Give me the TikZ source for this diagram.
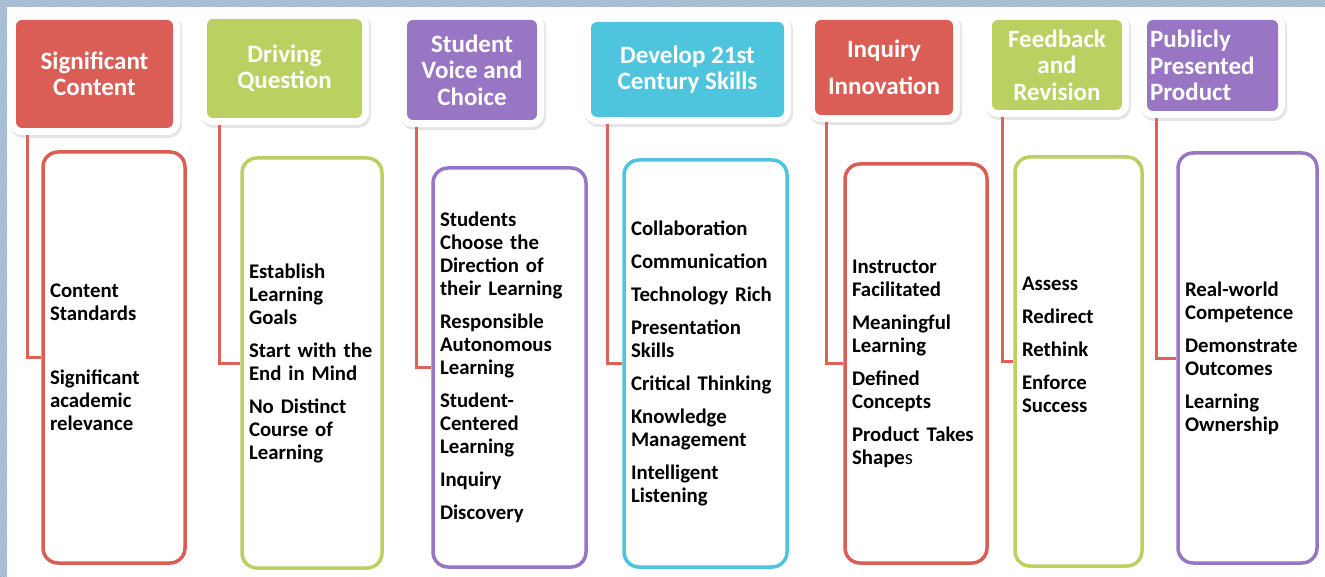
\documentclass[tikz,border=0pt]{standalone}
\usepackage{fontspec}
\setmainfont{Carlito}
\usepackage{xcolor}
\usetikzlibrary{patterns,positioning}
\definecolor{hred}{RGB}{218,94,85}
\definecolor{hgreen}{RGB}{186,209,98}
\definecolor{hpurple}{RGB}{152,118,196}
\definecolor{hcyan}{RGB}{78,196,221}
\definecolor{lred}{RGB}{222,98,88}
\definecolor{stripbg}{RGB}{150,178,201}
\definecolor{stripln}{RGB}{205,218,230}
\tikzset{%
	header/.style  = {rounded corners=6pt, fill=#1, text=white, inner sep=0pt, align=center,
		font=\bfseries\fontsize{25}{26.5}\selectfont,
		preaction={draw=black!10, line width=15pt, transform canvas={xshift=1.5pt,yshift=-2.5pt}},
		preaction={draw=white, line width=14pt}},
	itembox/.style = {draw=#1, line width=3.5pt, rounded corners=15pt, align=left, inner xsep=7pt,
		font=\bfseries\fontsize{20.8}{23}\selectfont},
	link/.style    = {draw=lred, line width=3pt},
	strip/.style   = {preaction={fill=stripbg}, pattern=north west lines, pattern color=stripln},
}
\begin{document}
\begin{tikzpicture}[x=1pt,y=-1pt]
	\useasboundingbox (0,0) rectangle (1325,577);
	\fill[white] (0,0) rectangle (1325,577);
	\fill[strip] (0,0) rectangle (7,577);
	\fill[strip] (0,0) rectangle (1325,7);

	% headers
	\node[header=hred, minimum width=157pt, minimum height=108pt] (h1) at (94.5,74) {Significant\\Content};
	\node[header=hgreen, minimum width=155pt, minimum height=99pt] (h2) at (284.5,68.5) {Driving\\Question};
	\node[header=hpurple, minimum width=130pt, minimum height=100pt] (h3) at (472,70) {Student\\Voice and\\Choice};
	\node[header=hcyan, minimum width=193pt, minimum height=95pt] (h4) at (687.5,69.5) {Develop 21st\\Century Skills};
	\node[header=hred, minimum width=138pt, minimum height=95pt] (h5) at (884,67.5) {Inquiry\\[11pt]Innovation};
	\node[header=hgreen, minimum width=130pt, minimum height=90pt] (h6) at (1057,65) {Feedback\\and\\Revision};
	\node[header=hpurple, align=left, text width=125pt, inner xsep=3pt, minimum height=91pt] (h7) at (1212.5,65.5) {Publicly\\Presented\\Product};

	% item boxes
	\node[itembox=hred, text width=128pt, minimum height=411pt] (b1) at (114,357.5)
		{Content\\Standards\\[41pt]Significant\\academic\\relevance};
	\node[itembox=hgreen, text width=126pt, minimum height=410pt] (b2) at (312,363)
		{Establish\\Learning\\Goals\\[10pt]Start with the\\End in Mind\\[10pt]No Distinct\\Course of\\Learning};
	\node[itembox=hpurple, text width=139pt, minimum height=399pt] (b3) at (509.5,367.5)
		{Students\\Choose the\\Direction of\\their Learning\\[10pt]Responsible\\Autonomous\\Learning\\[10pt]Student-\\Centered\\Learning\\[10pt]Inquiry\\[10pt]Discovery};
	\node[itembox=hcyan, text width=149pt, minimum height=407pt] (b4) at (705.5,363.5)
		{Collaboration\\[10pt]Communication\\[10pt]Technology Rich\\[10pt]Presentation\\Skills\\[10pt]Critical Thinking\\[10pt]Knowledge\\Management\\[10pt]Intelligent\\Listening};
	\node[itembox=hred, text width=128pt, minimum height=399pt] (b5) at (916,363.5)
		{Instructor\\Facilitated\\[10pt]Meaningful\\Learning\\[10pt]Defined\\Concepts\\[10pt]Product Takes\\Shape{\mdseries s}};
	\node[itembox=hgreen, text width=113pt, minimum height=409pt, text depth=156pt] (b6) at (1078.5,361.5)
		{Assess\\[10pt]Redirect\\[10pt]Rethink\\[10pt]Enforce\\Success};
	\node[itembox=hpurple, text width=125pt, minimum height=410pt] (b7) at (1247.5,358)
		{Real-world\\Competence\\[10pt]Demonstrate\\Outcomes\\[10pt]Learning\\Ownership};

	% links
	\draw[link] ([xshift=12pt,yshift=-7pt]h1.south west) |- (b1.west);
	\draw[link] ([xshift=13pt,yshift=-7pt]h2.south west) |- (b2.west);
	\draw[link] ([xshift=10pt,yshift=-7pt]h3.south west) |- (b3.west);
	\draw[link] ([xshift=17pt,yshift=-7pt]h4.south west) |- (b4.west);
	\draw[link] ([xshift=12pt,yshift=-7pt]h5.south west) |- (b5.west);
	\draw[link] ([xshift=11pt,yshift=-7pt]h6.south west) |- (b6.west);
	\draw[link] ([xshift=10pt,yshift=-7pt]h7.south west) |- (b7.west);
\end{tikzpicture}
\end{document}
